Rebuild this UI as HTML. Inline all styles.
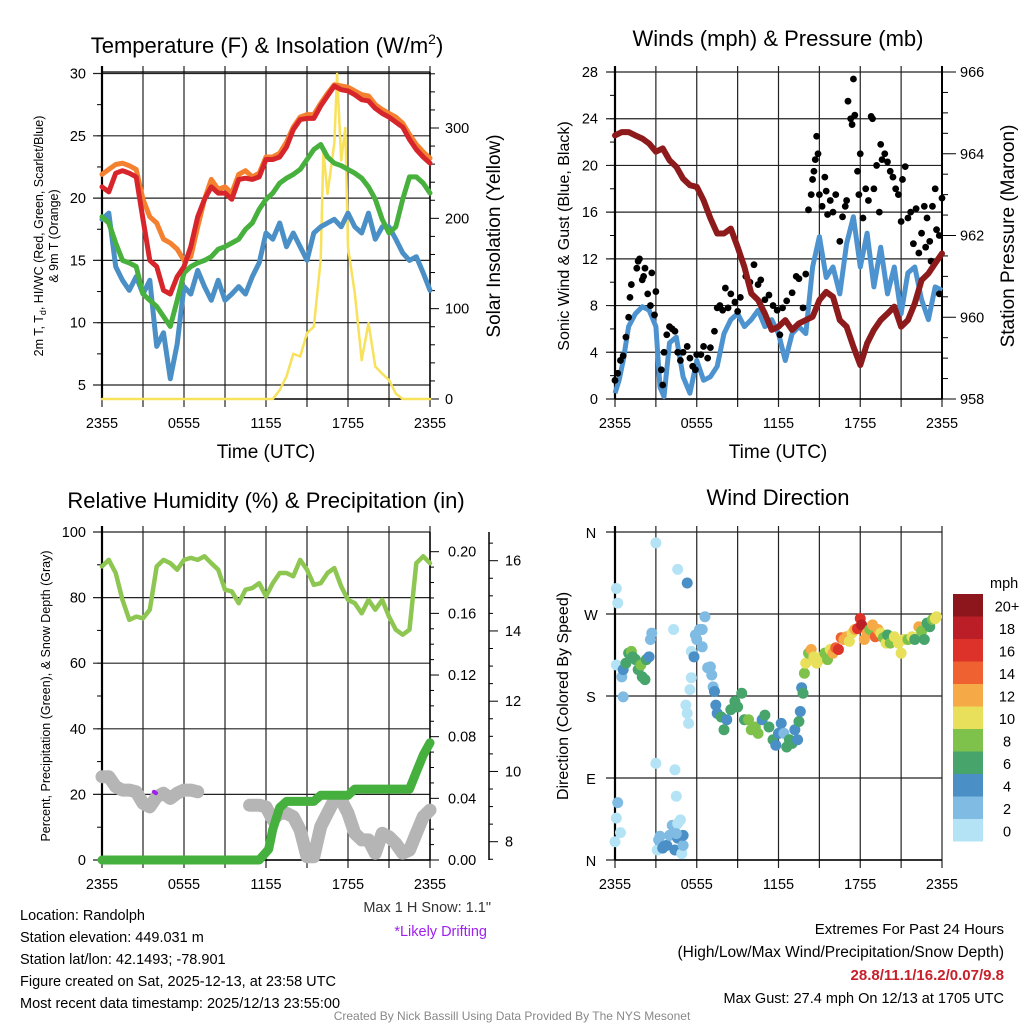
<!DOCTYPE html>
<html><head><meta charset="utf-8">
<style>
html,body{margin:0;padding:0;background:#fff;}
svg{display:block;font-family:"Liberation Sans",sans-serif;}
</style></head>
<body>
<svg id="fig" width="1024" height="1024" viewBox="0 0 1024 1024" xmlns="http://www.w3.org/2000/svg">
<rect width="1024" height="1024" fill="#fff"/>
<g id="p1"></g>
<g id="p2"></g>
<g id="p3"></g>
<g id="p4"></g>
<g font-size="22" text-anchor="middle" fill="#000">
<text x="267" y="53">Temperature (F) &amp; Insolation (W/m<tspan font-size="14" dy="-9">2</tspan><tspan dy="9">)</tspan></text>
<text x="778" y="46">Winds (mph) &amp; Pressure (mb)</text>
<text x="266" y="508">Relative Humidity (%) &amp; Precipitation (in)</text>
<text x="778" y="505">Wind Direction</text>
</g>
<g font-size="14.5" fill="#000">
<text x="20" y="920">Location: Randolph</text>
<text x="20" y="942">Station elevation: 449.031 m</text>
<text x="20" y="964">Station lat/lon: 42.1493; -78.901</text>
<text x="20" y="986">Figure created on Sat, 2025-12-13, at 23:58 UTC</text>
<text x="20" y="1008">Most recent data timestamp: 2025/12/13 23:55:00</text>
<text x="491" y="912" text-anchor="end" fill="#333">Max 1 H Snow: 1.1"</text>
<text x="487" y="936" text-anchor="end" fill="#a020f0">*Likely Drifting</text>
<text x="1004" y="934" text-anchor="end" font-size="15">Extremes For Past 24 Hours</text>
<text x="1004" y="957" text-anchor="end" font-size="15.5">(High/Low/Max Wind/Precipitation/Snow Depth)</text>
<text x="1004" y="980" text-anchor="end" font-size="15" font-weight="bold" fill="#c8202a">28.8/11.1/16.2/0.07/9.8</text>
<text x="1004" y="1003" text-anchor="end">Max Gust: 27.4 mph On 12/13 at 1705 UTC</text>
<text x="512" y="1020" text-anchor="middle" font-size="12" fill="#888">Created By Nick Bassill Using Data Provided By The NYS Mesonet</text>
</g>
</svg>
<script>
// ---------- DATA ----------
const xTickLabels = ["2355","0555","1155","1755","2355"];
const tempTimes = [0,0.5,1,1.5,2,2.5,3,3.5,4,4.5,5,5.5,6,6.5,7,7.5,8,8.5,9,9.5,10,10.5,11,11.5,12,12.5,13,13.5,14,14.5,15,15.5,16,16.5,17,17.5,18,18.5,19,19.5,20,20.5,21,21.5,22,22.5,23,23.5,24];
const temp2m = [20.9,20.5,22,22.2,22,21.7,18.3,15,14.5,12.6,12.3,13.7,14.5,16.1,18.5,19.9,20.9,20.4,20.4,19.9,21.5,21.6,21.5,21.7,23.1,23.1,23.3,24.1,25.5,26.3,26.4,26.4,27.4,28.2,29.0,28.7,28.6,28.3,27.9,27.8,27.2,26.8,26.5,26.1,25.7,24.7,23.9,23.3,22.8];
const temp9m = [21.9,22.3,22.7,22.8,22.6,22.3,19.9,18.5,18,16.7,16.4,15.9,15,15.3,17.7,19.9,21.5,20.7,20.9,20.4,21.9,22.2,21.7,22,23.3,23.3,23.6,24.5,25.7,26.5,26.7,26.7,27.6,28.4,29.1,29,28.9,28.6,28.3,28.2,27.5,27.1,26.8,26.5,26,25.1,24.3,23.7,23.2];
const tempHiWc = [18.5,18,16.4,15,14.8,14.5,12.3,11.8,11.3,10.5,9.7,11.8,14,14.5,14.8,15,15.3,15.9,16.1,16.4,16.7,17.5,18,19.1,19.9,20.4,21.2,21.6,21.9,22.3,23.1,23.9,24.3,23.3,22.8,22.6,22.3,22,21.6,20.9,19.9,18.3,17.2,17.7,19.9,21.7,21.7,21.2,20.4];
const tempDew = [18.3,18.8,14.5,13.4,12.6,13.7,12.3,13.4,8.1,9.2,5.5,8.3,12.9,12.3,14.2,12.9,11.8,13.4,11.8,12.3,12.9,12.3,13.7,14.8,17.2,16.7,18,16.1,17.2,16.1,15,17.2,17.7,18,18.3,17.7,18.8,17.7,17.2,18.8,16.7,17.7,17.7,16.7,15.6,15,15.3,14,12.6];
const solarTimes = [0,12.5,13,13.5,14,14.5,15,15.5,16,16.2,16.5,17,17.2,17.5,17.8,18,18.5,19,19.5,20,20.5,21,21.5,22,24];
const solarVals = [0,0,10,25,50,47,73,80,154,275,227,283,360,264,300,168,117,43,84,36,28,21,6,0,0];
const tempTicks = [5,10,15,20,25,30];
const solarTicks = [0,100,200,300];

const presTimes = tempTimes;
const pressure = [964.45,964.53,964.53,964.45,964.37,964.25,964.05,964.13,963.84,963.68,963.39,963.23,963.19,962.86,962.42,962.05,962.05,962.17,961.72,961.23,960.58,960.42,960.09,959.69,959.77,959.93,959.69,959.85,959.93,960.01,960.42,960.62,960.5,959.93,959.77,959.28,958.83,959.36,959.69,959.93,960.09,960.26,959.77,959.93,960.34,960.91,961.07,961.32,961.56];
const sonicTimes = [0,0.3,0.6,1,1.5,2,2.5,3,3.3,3.6,4,4.5,5,5.5,6,6.5,7,7.5,8,8.5,9,9.5,10,10.5,11,11.5,12,12.5,13,13.5,14,14.5,15,15.5,16,16.5,17,17.5,18,18.5,19,19.5,20,20.5,21,21.5,22,22.5,23,23.5,24];
const sonicWind = [0.5,1.6,3.3,6.2,7.3,7.9,7.6,6.2,1,0.2,4.8,5.3,1.9,0.5,3.3,1.6,1.9,2.8,5.6,6.8,7.3,6.2,6.8,7.6,6.2,6.8,5.6,3.3,5.6,6.2,5.6,11.3,13.9,10.4,11.3,9,13.3,15.6,11.3,14.2,9.6,13,9,11.3,7.3,10.8,11.3,8.5,6.8,9.6,9.3];
const gustTimes = [0,0.2,0.4,0.6,0.8,1,1.1,1.2,1.6,1.7,1.8,2,2.1,2.2,2.4,2.6,2.7,2.9,3.0,3.4,3.5,3.6,3.8,4,4.2,4.4,4.6,4.8,5,5.3,5.5,5.7,5.9,6,6.3,6.5,6.8,7,7.3,7.5,7.7,7.9,8.1,8.3,8.5,8.8,9,9.2,9.6,9.9,10.2,10.5,10.7,11,11.3,11.6,11.9,12.1,12.3,12.6,13,13.3,13.5,13.8,14,14.2,14.4,14.5,14.6,14.7,14.8,14.9,15,15.2,15.4,15.5,15.6,15.8,16,16.2,16.5,16.7,16.9,17,17.1,17.3,17.4,17.5,17.6,17.8,17.9,18.0,18.2,18.4,18.6,18.8,18.9,19,19.2,19.4,19.5,19.6,19.8,20,20.2,20.4,20.6,20.8,21,21.1,21.3,21.5,21.7,21.9,22.1,22.3,22.5,22.7,22.9,23.1,23.3,23.5,23.6,23.8,24,23.8,23.2,22.8];
const gustVals = [1.6,2.2,3.3,3.7,5.3,7,8.7,9.8,11.2,11.8,12,10.2,10.5,11.2,9,8,10.8,7.2,9.2,2.5,1.2,4.0,5.5,6.2,6.0,5.8,4.0,3.3,4.0,4.5,3.5,2.8,2.5,3.8,3.8,4.5,3.5,4.4,5.8,7.8,8.0,7.6,9.5,7.8,9.0,8.3,7.5,8.7,10.5,10.0,11.5,9.8,10.2,8.5,8.9,8.0,7.6,5.5,7.8,8.4,9.1,10.5,10.3,7.8,10.7,16.2,17.5,18.8,19.5,20.5,22.5,21,17.5,16.5,19.0,17.8,15.8,17.0,16.0,17.5,13.5,15.6,16.5,17.0,25.5,24.0,23.5,27.4,24.3,19.5,17.5,21.0,15.5,18,17,24.2,24.0,18.0,20.0,16.0,21.8,20.5,21.0,20.3,19.5,19,18,17.5,15.2,18.8,19.9,15.5,16.0,13.3,16.3,12.5,14.2,16.5,15.5,13.5,16.5,18.0,14.5,14.0,17.2,9.0,11.8,13.0];
const windTicks = [0,4,8,12,16,20,24,28];
const presTicks = [958,960,962,964,966];

const rhTimes = tempTimes;
const rh = [89.5,91.5,87.5,79.3,73.2,74.2,73.7,76.3,89.5,91.5,90.5,88.5,91.5,92.1,91.5,92.6,90.5,88.5,82.4,81.9,78.3,82.4,82.9,84.4,80.4,84.4,87.5,87.5,86.5,91.5,88.5,83.9,84.4,87.5,89.0,83.4,79.3,78.3,75.2,79.3,76.3,79.3,74.2,70.2,68.7,70.2,90.5,92.6,90.5];
const precipTimes = [0,11.5,11.8,12.2,12.5,13,13.5,15.5,16,18,18.5,22.5,23,23.5,24];
const precip = [0,0,0.003,0.007,0.02,0.034,0.038,0.038,0.042,0.042,0.046,0.046,0.057,0.068,0.076];
const snowTimes1 = [0,0.5,1,1.5,2,2.5,3,3.5,4,4.5,5,5.5,6,6.5,7];
const snow1 = [9.85,9.85,9.57,9.47,9.47,9.42,9.09,8.99,9.28,9.38,9.23,9.38,9.47,9.47,9.42];
const snowTimes2 = [10.8,11.5,12,12.5,13,13.5,14,14.5,15,15.5,16,16.5,17,17.5,18,18.5,19,19.5,20,20.5,21,21.5,22,22.5,23,23.5,24];
const snow2 = [9.04,9.04,8.99,8.62,8.81,8.81,8.71,8.33,7.57,7.57,8.43,8.81,9.19,9.19,8.81,8.24,8.05,8.05,7.67,8.24,8.14,7.95,7.67,7.76,8.24,8.71,8.9];
const driftTimes = [3.8,3.95];
const driftVals = [9.42,9.38];
const rhTicks = [0,20,40,60,80,100];
const precipTicks = [0,0.04,0.08,0.12,0.16,0.20];
const snowTicks = [8,10,12,14,16];

const dirTimes = [0,0.1,0.2,0.1,0.1,0.2,0.4,0.5,0.6,0.8,1.0,1.2,1.3,1.5,1.7,1.9,2.0,2.2,2.3,2.5,0.6,2.6,2.7,3.0,3.0,3.1,3.2,3.3,3.5,3.6,3.8,4.0,4.2,4.4,4.6,4.6,4.8,4.9,5.0,5.0,4.5,4.4,4.5,4.3,4.6,5.3,5.2,5.3,5.4,5.5,5.6,5.6,5.8,5.9,6.0,6.2,6.4,6.6,6.4,6.8,7.0,7.1,7.2,7.3,7.4,7.5,7.8,8.0,8.2,8.5,8.8,9.0,9.3,9.5,9.8,10.0,10.3,10.5,10.8,11,11.3,11.6,11.8,12.0,12.2,12.4,12.6,12.8,13.0,13.2,13.4,13.5,13.6,13.7,13.8,13.9,14.0,14.2,14.4,14.6,14.8,15.0,15.2,15.4,15.6,15.8,16.0,16.2,16.4,16.6,16.8,17.0,17.2,17.4,17.6,17.8,18.0,18.1,18.3,18.5,18.7,18.9,19.1,19.3,19.5,19.7,19.9,20.0,20.2,20.5,20.8,21.0,21.2,21.5,21.8,22.0,22.3,22.5,22.7,22.9,23.1,23.3,23.5,23.6];
const dirVals = [20,298,282,214,46,63,30,201,209,216,227,229,223,220,209,214,201,198,220,223,179,242,249,348,106,11,22,26,13,15,16,27,38,11,24,40,44,7,16,27,29,99,70,253,319,304,170,161,150,187,200,229,223,247,242,253,234,267,253,211,212,203,190,185,170,161,157,143,154,165,174,168,183,154,154,143,146,139,154,159,146,132,126,139,150,139,124,132,128,143,132,152,163,189,183,205,216,227,231,223,216,220,223,227,220,231,227,233,231,244,242,245,240,249,253,254,265,258,242,249,253,258,245,253,249,244,238,247,238,245,238,227,242,242,245,242,256,251,242,260,256,264,265,267];
const dirSpeeds = [1,1,1,1,1,3,1,3,4,6,7,8,6,7,6,8,6,6,6,5,3,3,2,1,1,1,3,3,4,4,4,3,3,4,4,1,1,1,3,4,3,1,1,1,1,4,1,1,1,1,1,1,4,2,2,2,2,2,2,2,2,2,3,4,4,4,6,6,4,6,6,7,6,6,9,9,8,8,5,7,6,6,4,4,4,2,6,7,6,4,4,6,4,4,6,9,10,8,13,10,10,10,10,8,8,10,12,14,16,15,13,12,10,11,12,16,17,18,12,13,8,12,14,12,11,8,10,7,9,10,11,10,10,9,10,6,12,8,6,7,6,8,10,10];
const dirTickLabels = ["N","E","S","W","N"];
const speedBins = ["0","2","4","6","8","10","12","14","16","18","20+"];
const speedColors = ["#b5e3f6","#80bbe3","#4a8fc6","#47a56c","#7ec24b","#e8e05a","#f6a947","#ef6130","#dd3229","#bc1e27","#8c161b"];

// ---------- HELPERS ----------
const NS = "http://www.w3.org/2000/svg";
function mk(parent, tag, attrs, txt){
  const e = document.createElementNS(NS, tag);
  for (const k in attrs) e.setAttribute(k, attrs[k]);
  if (txt !== undefined) e.textContent = txt;
  parent.appendChild(e);
  return e;
}
function lin(d0,d1,r0,r1){ return v => r0 + (v-d0)/(d1-d0)*(r1-r0); }
function pathFrom(ts, vs, sx, sy){
  return ts.map((t,i)=>(i?"L":"M")+sx(t).toFixed(1)+","+sy(vs[i]).toFixed(1)).join("");
}
function frame(g, X0, X1, Y0, Y1, hTickVals, sy){
  const sx = lin(0,24,X0,X1);
  for (let h=0; h<=24; h+=3){
    const l = mk(g,"line",{x1:sx(h),x2:sx(h),y1:Y0-6,y2:Y1+8,stroke:"#222","stroke-width":1.2});
    
    
  }
  hTickVals.forEach(v=>{
    const l = mk(g,"line",{x1:X0-9,x2:X1,y1:sy(v),y2:sy(v),stroke:"#222","stroke-width":1.2});
    
    
  });
  const ax = mk(g,"line",{x1:X0,x2:X0,y1:Y0-6,y2:Y1,stroke:"#000","stroke-width":2.2});
  
  
  const bx = mk(g,"line",{x1:X0,x2:X1,y1:Y1,y2:Y1,stroke:"#000","stroke-width":1.5});
  
  
  xTickLabels.forEach((lab,i)=>{
    const t = mk(g,"text",{x:sx(i*6),y:Y1+29,"font-size":14.5,"text-anchor":"middle"},lab);
    
    
  });
  return sx;
}

// ---------- PANEL 1 ----------
(function(){
  const g = document.getElementById("p1");
  const X0=102, X1=430, Y0=72, Y1=399;
  const sy = lin(5,30,385,73.5);
  const sySol = lin(0,300,399,128);
  for (let v=5; v<=30; v+=2.5){
    const m = mk(g,"line",{x1:X0-5,x2:X0,y1:sy(v),y2:sy(v),stroke:"#000","stroke-width":1});
    
    
  }
  const sx = frame(g,X0,X1,Y0,Y1,tempTicks,sy);
  const top = mk(g,"line",{x1:X0,x2:X1,y1:Y0,y2:Y0,stroke:"#000","stroke-width":1.2});
  
  
  const ra = mk(g,"line",{x1:X1,x2:X1,y1:Y0,y2:Y1,stroke:"#000","stroke-width":1.5});
  
  
  for (let v=0; v<=360; v+=20){
    const m = mk(g,"line",{x1:X1,x2:X1+(v%100===0?9:5),y1:sySol(v),y2:sySol(v),stroke:"#000","stroke-width":1});
    
    
  }
  tempTicks.forEach(v=>{
    const t = mk(g,"text",{x:86,y:sy(v)+5,"font-size":14.5,"text-anchor":"end"},String(v));
    
    
  });
  solarTicks.forEach(v=>{
    const t = mk(g,"text",{x:445,y:sySol(v)+5,"font-size":14.5},String(v));
    
    
  });
  const series = [
    [solarTimes, solarVals, "#f8e15b", 2.5, sySol, "solar-insolation-line"],
    [tempTimes, tempDew, "#4a8fc6", 5, sy, "dewpoint-line"],
    [tempTimes, tempHiWc, "#48b03d", 5, sy, "heat-index-windchill-line"],
    [tempTimes, temp9m, "#f4812f", 5, sy, "temp-9m-line"],
    [tempTimes, temp2m, "#d7262b", 5, sy, "temp-2m-line"]
  ];
  series.forEach(s=>{
    const p = mk(g,"path",{d:pathFrom(s[0],s[1],sx,s[4]),fill:"none",stroke:s[2],"stroke-width":s[3],"stroke-linejoin":"round","stroke-linecap":"round"});
    
    
  });
  const xt = mk(g,"text",{x:266,y:458,"font-size":19,"text-anchor":"middle"},"Time (UTC)");
  
  
  const yt = mk(g,"text",{transform:"translate(43,236) rotate(-90)","font-size":12.5,"text-anchor":"middle"});
  
  
  yt.innerHTML = '2m T, T<tspan font-size="9" dy="3">d</tspan><tspan dy="-3">, HI/WC (Red, Green, Scarlet/Blue)</tspan>';
  const yt2 = mk(g,"text",{transform:"translate(58,236) rotate(-90)","font-size":12.5,"text-anchor":"middle"},"& 9m T (Orange)");
  
  
  const rt = mk(g,"text",{transform:"translate(500,236) rotate(-90)","font-size":19,"text-anchor":"middle"},"Solar Insolation (Yellow)");
  
  
})();

// ---------- PANEL 2 ----------
(function(){
  const g = document.getElementById("p2");
  const X0=615, X1=942, Y0=72, Y1=399;
  const sy = lin(0,28,399,72);
  const syP = lin(958,966,399,72);
  for (let v=0; v<=28; v+=2){
    const m = mk(g,"line",{x1:X0-5,x2:X0,y1:sy(v),y2:sy(v),stroke:"#000","stroke-width":1});
    
    
  }
  const sx = frame(g,X0,X1,Y0,Y1,windTicks,sy);
  const ra = mk(g,"line",{x1:X1,x2:X1,y1:Y0-6,y2:Y1,stroke:"#000","stroke-width":2});
  
  
  for (let v=958; v<=966.01; v+=0.5){
    const m = mk(g,"line",{x1:X1,x2:X1+(Math.abs(v-Math.round(v/2)*2)<0.01?14:6),y1:syP(v),y2:syP(v),stroke:"#000","stroke-width":1});
    
    
  }
  windTicks.forEach(v=>{
    const t = mk(g,"text",{x:598,y:sy(v)+5,"font-size":14.5,"text-anchor":"end"},String(v));
    
    
  });
  presTicks.forEach(v=>{
    const t = mk(g,"text",{x:960,y:syP(v)+5,"font-size":14.5},String(v));
    
    
  });
  const sw = mk(g,"path",{d:pathFrom(sonicTimes,sonicWind,sx,sy),fill:"none",stroke:"#4d93cf","stroke-width":5,"stroke-linejoin":"round"});
  
  
  gustTimes.forEach((t,i)=>{
    const c = mk(g,"circle",{cx:sx(t),cy:sy(gustVals[i]),r:3.4,fill:"#000"});
    
    
  });
  const pl = mk(g,"path",{d:pathFrom(presTimes,pressure,sx,syP),fill:"none",stroke:"#8e1b1c","stroke-width":6,"stroke-linejoin":"round","stroke-linecap":"round"});
  
  
  const xt = mk(g,"text",{x:778,y:458,"font-size":19,"text-anchor":"middle"},"Time (UTC)");
  
  
  const yt = mk(g,"text",{transform:"translate(569,236) rotate(-90)","font-size":16,"text-anchor":"middle"},"Sonic Wind & Gust (Blue, Black)");
  
  
  const rt = mk(g,"text",{transform:"translate(1014,236) rotate(-90)","font-size":19,"text-anchor":"middle"},"Station Pressure (Maroon)");
  
  
})();

// ---------- PANEL 3 ----------
(function(){
  const g = document.getElementById("p3");
  const X0=102, X1=430, Y0=532, Y1=860;
  const sy = lin(0,100,860,532);
  const syPr = lin(0,0.20,860,551.7);
  const sySn = lin(8,16,841.7,560.7);
  for (let v=0; v<=100; v+=10){
    const m = mk(g,"line",{x1:X0-5,x2:X0,y1:sy(v),y2:sy(v),stroke:"#000","stroke-width":1});
    
    
  }
  const sx = frame(g,X0,X1,Y0,Y1,rhTicks,sy);
  const ra = mk(g,"line",{x1:X1,x2:X1,y1:Y0,y2:Y1,stroke:"#000","stroke-width":1.5});
  
  
  for (let v=0; v<=0.21; v+=0.01){
    const major = Math.abs(v*25-Math.round(v*25))<0.01;
    const m = mk(g,"line",{x1:X1,x2:X1+(major?9:4),y1:syPr(v),y2:syPr(v),stroke:"#000","stroke-width":1});
    
    
  }
  precipTicks.forEach(v=>{
    const t = mk(g,"text",{x:448,y:syPr(v)+5,"font-size":14.5},v.toFixed(2));
    
    
  });
  const sa = mk(g,"line",{x1:489,x2:489,y1:532,y2:860,stroke:"#000","stroke-width":1.5});
  
  
  for (let v=7.5; v<=16.6; v+=0.5){
    const major = Math.abs(v-Math.round(v/2)*2)<0.01;
    const m = mk(g,"line",{x1:489,x2:489+(major?9:4),y1:sySn(v),y2:sySn(v),stroke:"#000","stroke-width":1});
    
    
  }
  snowTicks.forEach(v=>{
    const t = mk(g,"text",{x:505,y:sySn(v)+5,"font-size":14.5},String(v));
    
    
  });
  rhTicks.forEach(v=>{
    const t = mk(g,"text",{x:86,y:sy(v)+5,"font-size":14.5,"text-anchor":"end"},String(v));
    
    
  });
  [[snowTimes1,snow1],[snowTimes2,snow2]].forEach(s=>{
    const p = mk(g,"path",{d:pathFrom(s[0],s[1],sx,sySn),fill:"none",stroke:"#b5b5b5","stroke-width":13,"stroke-linejoin":"round","stroke-linecap":"round"});
    
    
  });
  const dr = mk(g,"path",{d:pathFrom(driftTimes,driftVals,sx,sySn),fill:"none",stroke:"#a020f0","stroke-width":4,"stroke-linecap":"round"});
  
  
  const pr = mk(g,"path",{d:pathFrom(precipTimes,precip,sx,syPr),fill:"none",stroke:"#46b03e","stroke-width":9,"stroke-linejoin":"round","stroke-linecap":"round"});
  
  
  const rl = mk(g,"path",{d:pathFrom(rhTimes,rh,sx,sy),fill:"none",stroke:"#8ec652","stroke-width":4.5,"stroke-linejoin":"round","stroke-linecap":"round"});
  
  
  const yt = mk(g,"text",{transform:"translate(50,696) rotate(-90)","font-size":12.5,"text-anchor":"middle"},"Percent, Precipitation (Green), & Snow Depth (Gray)");
  
  
})();

// ---------- PANEL 4 ----------
(function(){
  const g = document.getElementById("p4");
  const X0=615, X1=942, Y0=532, Y1=860;
  const sy = lin(0,360,860,532);
  const dirTickVals = [0,90,180,270,360];
  const sx = frame(g,X0,X1,Y0,Y1,dirTickVals,sy);
  dirTickVals.forEach((v,i)=>{
    const t = mk(g,"text",{x:591,y:sy(v)+6,"font-size":14.5,"text-anchor":"middle"},dirTickLabels[i]);
    
    
  });
  dirTimes.forEach((t,i)=>{
    const sp = dirSpeeds[i];
    const bin = Math.min(10, Math.floor(sp/2));
    const c = mk(g,"circle",{cx:sx(t),cy:sy(dirVals[i]),r:5.5,fill:speedColors[bin]});
    
    
  });
  const yt = mk(g,"text",{transform:"translate(568,696) rotate(-90)","font-size":16,"text-anchor":"middle"},"Direction (Colored By Speed)");
  
  
  const cbTop=594, cbH=22.5;
  speedBins.forEach((lab,i)=>{
    const y = cbTop + (10-i)*cbH;
    const r = mk(g,"rect",{x:953,y:y,width:30,height:cbH,fill:speedColors[i]});
    
    
    const t = mk(g,"text",{x:1007,y:y+cbH/2+6,"font-size":14.5,"text-anchor":"middle"},lab);
    
    
  });
  const u = mk(g,"text",{x:990,y:588,"font-size":14.5},"mph");
  
  
})();
</script>
</body></html>
